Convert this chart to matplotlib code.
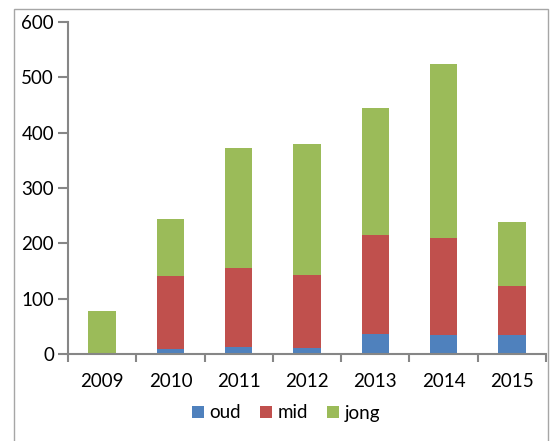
"""
Stacked bar chart: oud / mid / jong per year, 2009-2015.
"""
import numpy as np
import matplotlib.pyplot as plt
from matplotlib.patches import Rectangle

years = ["2009", "2010", "2011", "2012", "2013", "2014", "2015"]
oud = [0, 9, 13, 11, 37, 35, 34]
mid = [0, 132, 143, 132, 178, 174, 88]
jong = [77, 103, 217, 236, 229, 315, 117]

plt.rcParams["font.family"] = ["Lato", "DejaVu Sans"]

fig = plt.figure(figsize=(5.55, 4.41), dpi=100)
# outer chart frame
fig.patches.append(Rectangle((14 / 555, -0.05), (548 - 14) / 555, 1.05 - 9 / 441,
                             transform=fig.transFigure, fill=False,
                             edgecolor="#a6a6a6", linewidth=1.0))
ax = fig.add_axes([68 / 555, 1 - 354 / 441, (546 - 68) / 555, (354 - 22) / 441])

x = np.arange(len(years))
o = np.array(oud, dtype=float)
m = np.array(mid, dtype=float)
j = np.array(jong, dtype=float)
w = 0.4
ax.bar(x, o, w, color="#4f81bd", label="oud")
ax.bar(x, m, w, bottom=o, color="#c0504d", label="mid")
ax.bar(x, j, w, bottom=o + m, color="#9bbb59", label="jong")

ax.set_xlim(-0.5, len(years) - 0.5)
ax.set_ylim(0, 600)
ax.set_yticks(range(0, 601, 100))
ax.set_xticks(x)
ax.set_xticklabels(years)
ax.set_xticks(np.arange(-0.5, len(years)), minor=True)

for s in ("top", "right"):
    ax.spines[s].set_visible(False)
for s in ("left", "bottom"):
    ax.spines[s].set_color("#868686")
    ax.spines[s].set_linewidth(1.5)

ax.tick_params(axis="y", length=7, width=1.5, color="#868686", labelsize=13.5, pad=3)
ax.tick_params(axis="x", which="major", length=0, labelsize=13.5, pad=14)
ax.tick_params(axis="x", which="minor", length=6, width=1.5, color="#868686")

fig.legend(loc="center", bbox_to_anchor=(0.515, 1 - 413 / 441), ncol=3, frameon=False,
           fontsize=13.5, handlelength=0.65, handleheight=0.65, handletextpad=0.3,
           columnspacing=1.0)

fig.savefig("out.png", dpi=100)
